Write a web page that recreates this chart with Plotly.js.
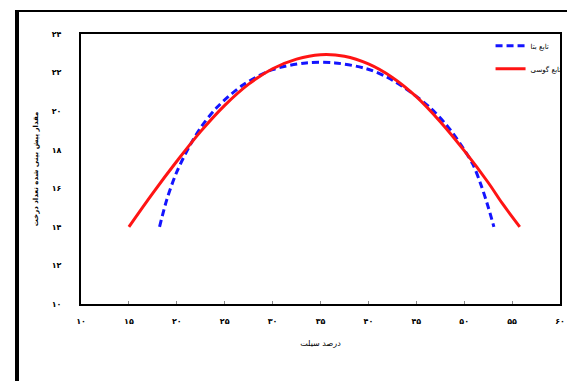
<!DOCTYPE html>
<html>
<head>
<meta charset="utf-8">
<script src="https://cdn.plot.ly/plotly-3.0.1.min.js"></script>
<style>
  html, body { margin: 0; padding: 0; background: #fff; }
  #wrap { position: relative; width: 567px; height: 381px; overflow: hidden; }
  #chart { position: absolute; left: 0; top: 0; width: 567px; height: 381px; }
  #frame { position: absolute; left: 15px; top: 10px; width: 560px; height: 380px;
           border-left: 4px solid #000; border-top: 2px solid #000; pointer-events: none; }
</style>
</head>
<body>
<div id="wrap">
  <div id="chart"></div>
  <div id="frame"></div>
</div>
<script>
// Beta function (blue dashed)
const betaX = [18.2, 18.95, 20.0, 21.4, 22.5, 24.2, 26.9, 30.0, 33.5, 36.5, 39.8, 42.0, 44.5, 46.5, 48.2, 49.8, 50.9, 51.7, 52.4, 53.1];
const betaY = [14, 15.4, 16.85, 18.25, 19.15, 20.2, 21.35, 22.15, 22.5, 22.5, 22.2, 21.75, 20.95, 20.15, 19.25, 18.15, 17.25, 16.25, 15.2, 14];
// Gaussian function (red solid)
const gaussX = [15, 17.5, 20, 22.5, 25, 27.5, 30, 32.5, 35, 37.5, 40, 42.5, 45, 47.5, 50, 52.5, 54, 55.8];
const gaussY = [14, 15.75, 17.4, 18.95, 20.3, 21.4, 22.2, 22.7, 22.93, 22.85, 22.45, 21.75, 20.75, 19.45, 17.95, 16.3, 15.2, 14];

const seriesNames = ['تابع بتا', 'تابع گوسی'];
const xTickVals = [10, 15, 20, 25, 30, 35, 40, 45, 50, 55, 60];
const xTickText = ['۱۰', '۱۵', '۲۰', '۲۵', '۳۰', '۳۵', '۴۰', '۴۵', '۵۰', '۵۵', '۶۰'];
const yTickVals = [10, 12, 14, 16, 18, 20, 22, 24];
const yTickText = ['۱۰', '۱۲', '۱۴', '۱۶', '۱۸', '۲۰', '۲۲', '۲۴'];
const xTitle = 'درصد سیلت';
const yTitle = 'مقدار پیش بینی شده تعداد درخت';

const font = 'DejaVu Sans, sans-serif';

const traces = [
  {
    x: betaX, y: betaY, name: seriesNames[0], type: 'scatter', mode: 'lines', legendgroup: 'a',
    line: { color: '#1414ff', width: 3, dash: '7px,4px', shape: 'spline', smoothing: 0.9 }
  },
  {
    x: gaussX, y: gaussY, name: seriesNames[1], type: 'scatter', mode: 'lines', legendgroup: 'b',
    line: { color: '#ff1414', width: 3, shape: 'spline', smoothing: 1 }
  }
];

const layout = {
  width: 567, height: 381,
  margin: { l: 81, r: 7, t: 34, b: 77, autoexpand: false },
  paper_bgcolor: '#fff', plot_bgcolor: '#fff',
  font: { family: font, color: '#000', size: 8 },
  showlegend: true,
  legend: {
    x: 0.855, y: 1.01, xanchor: 'left', yanchor: 'top',
    bgcolor: 'rgba(0,0,0,0)', font: { size: 7, family: font, color: '#000' },
    itemwidth: 30, tracegroupgap: 4
  },
  xaxis: {
    range: [10, 60], tickvals: xTickVals, ticktext: xTickText, automargin: false,
    showgrid: false, zeroline: false,
    showline: true, linecolor: '#000', linewidth: 2, mirror: true,
    ticks: 'inside', ticklen: 3, tickcolor: '#888', tickwidth: 1,
    ticklabelstandoff: 8,
    tickfont: { size: 8, family: font, color: '#000', weight: 'bold' },
    title: { text: xTitle, font: { size: 8, family: font, color: '#000' }, standoff: 16 }
  },
  yaxis: {
    range: [10, 24], tickvals: yTickVals, ticktext: yTickText, automargin: false,
    showgrid: false, zeroline: false,
    showline: true, linecolor: '#000', linewidth: 2, mirror: true,
    ticks: '', ticklabelstandoff: 16,
    tickfont: { size: 8, family: font, color: '#000', weight: 'bold' },
    title: { text: yTitle, font: { size: 7, family: font, color: '#000', weight: 'bold' }, standoff: 12 }
  }
};

Plotly.newPlot('chart', traces, layout, { staticPlot: true, displayModeBar: false });
</script>
</body>
</html>
